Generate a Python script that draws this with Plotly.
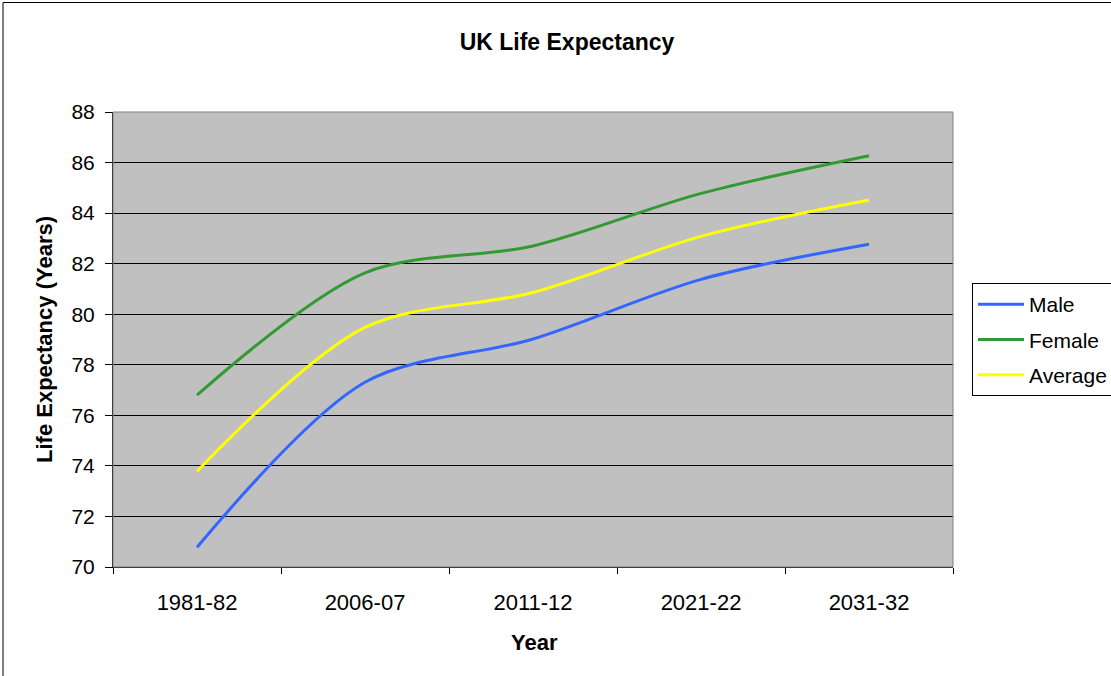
import plotly.graph_objects as go

categories = ["1981-82", "2006-07", "2011-12", "2021-22", "2031-32"]
male = [70.78, 77.31, 79.02, 81.38, 82.77]
female = [76.80, 81.64, 82.70, 84.78, 86.27]
average = [73.79, 79.48, 80.86, 83.08, 84.52]

FONT = "Liberation Sans, Arial, sans-serif"

W, H = 1111, 676
L, R, T, B = 113, 953, 112, 567  # plot area pixel box
pw, ph = R - L, B - T

def px(x):
    return (x - L) / pw

def py(y):
    return (B - y) / ph

fig = go.Figure()
series = [("Male", male, "#3366FF"), ("Female", female, "#339933"), ("Average", average, "#FFFF00")]
for name, vals, col in series:
    fig.add_trace(go.Scatter(
        x=categories, y=vals, name=name, mode="lines",
        line=dict(color=col, width=3, shape="spline", smoothing=0.9),
        legendgroup=name,
    ))

fig.update_layout(
    width=W, height=H, autosize=False,
    margin=dict(l=L, r=W - R, t=T, b=H - B, pad=0, autoexpand=False),
    paper_bgcolor="white",
    plot_bgcolor="#C0C0C0",
    font=dict(family=FONT, size=21, color="black"),
    title=dict(text="<b>UK Life Expectancy</b>", x=px(567), xref="paper", xanchor="center",
               y=1 - 42 / H, yref="container", yanchor="middle",
               font=dict(family=FONT, size=23, color="black")),
    showlegend=True,
    legend=dict(x=px(972), y=py(283), xanchor="left", yanchor="top",
                bgcolor="white", bordercolor="black", borderwidth=1,
                font=dict(family=FONT, size=21, color="black"),
                tracegroupgap=5, itemwidth=46),
)

fig.update_xaxes(
    type="category", range=[-0.5, 4.5], tickson="boundaries",
    showgrid=False, showline=True, linecolor="black", linewidth=1,
    ticks="outside", ticklen=6, tickcolor="black", tickwidth=1,
    ticklabelstandoff=16, zeroline=False,
    tickfont=dict(family=FONT, size=22, color="black"),
)
fig.update_yaxes(
    range=[70, 88], dtick=2, tick0=70,
    showgrid=True, gridcolor="black", gridwidth=1,
    showline=True, linecolor="black", linewidth=1,
    ticks="outside", ticklen=7, tickcolor="black", tickwidth=1,
    ticklabelstandoff=6, zeroline=False,
    tickfont=dict(family=FONT, size=21, color="black"),
)

# plot area border (gray) and chart area border (black)
fig.add_shape(type="rect", xref="paper", yref="paper", x0=0, x1=1, y0=0, y1=1,
              line=dict(color="#808080", width=1), fillcolor="rgba(0,0,0,0)", layer="above")
fig.add_shape(type="rect", xref="paper", yref="paper",
              x0=px(3), x1=px(1120), y0=py(690), y1=py(2.5),
              line=dict(color="black", width=1), fillcolor="rgba(0,0,0,0)", layer="above")

fig.add_annotation(text="<b>Life Expectancy (Years)</b>", xref="paper", yref="paper",
                   x=px(44), y=py(340), textangle=-90, showarrow=False,
                   xanchor="center", yanchor="middle",
                   font=dict(family=FONT, size=22, color="black"))
fig.add_annotation(text="<b>Year</b>", xref="paper", yref="paper",
                   x=px(534), y=py(642), showarrow=False,
                   xanchor="center", yanchor="middle",
                   font=dict(family=FONT, size=22, color="black"))

fig.write_html("out.html",
               config={"responsive": False, "displayModeBar": False},
               default_width="1111px", default_height="676px",
               post_script="document.body.style.margin='0';document.body.style.overflow='hidden';")
